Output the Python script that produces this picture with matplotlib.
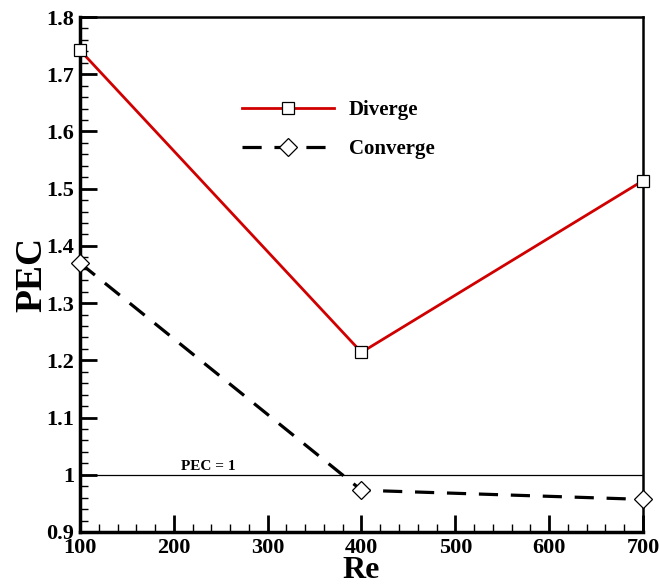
import matplotlib
matplotlib.use("Agg")
import matplotlib.pyplot as plt
from matplotlib.ticker import MultipleLocator

plt.rcParams['font.family'] = ['Liberation Serif', 'DejaVu Serif']
plt.rcParams['font.weight'] = 'bold'

re_vals = [100, 400, 700]
pec_diverge = [1.742, 1.214, 1.514]
pec_converge = [1.370, 0.973, 0.957]

fig = plt.figure(figsize=(6.59, 5.85), dpi=100)
ax = fig.add_axes([0.1214, 0.0906, 0.8543, 0.8803])

ax.axhline(1.0, color='black', lw=0.9, zorder=1)
ax.text(208, 1.003, 'PEC = 1', fontsize=11, fontweight='bold', ha='left', va='bottom')

ax.plot(re_vals, pec_diverge, color='#d10000', lw=2, marker='s', ms=9,
        mfc='white', mec='black', mew=0.9, label='Diverge', clip_on=False, zorder=3)
ax.plot(re_vals, pec_converge, color='black', lw=2.3, ls=(0, (6, 4)), marker='D', ms=9,
        mfc='white', mec='black', mew=0.9, label='Converge', clip_on=False, zorder=3)

ax.set_xlim(100, 700)
ax.set_ylim(0.9, 1.8)
ax.xaxis.set_major_locator(MultipleLocator(100))
ax.xaxis.set_minor_locator(MultipleLocator(20))
ax.yaxis.set_minor_locator(MultipleLocator(0.02))
ax.set_yticks([0.9, 1.0, 1.1, 1.2, 1.3, 1.4, 1.5, 1.6, 1.7, 1.8])
ax.set_yticklabels(['0.9', '1', '1.1', '1.2', '1.3', '1.4', '1.5', '1.6', '1.7', '1.8'])

ax.tick_params(which='major', direction='in', length=12, width=2, labelsize=16,
               top=False, right=False, pad=4)
ax.tick_params(which='minor', direction='in', length=6, width=1, top=False, right=False)
for lab in ax.get_xticklabels() + ax.get_yticklabels():
    lab.set_fontweight('bold')

for side in ['left', 'bottom']:
    ax.spines[side].set_linewidth(2.5)
for side in ['top', 'right']:
    ax.spines[side].set_linewidth(1.8)

ax.set_xlabel('Re', fontsize=23, fontweight='bold', labelpad=-1)
ax.set_ylabel('PEC', fontsize=27, fontweight='bold', labelpad=-2)

leg = ax.legend(loc='upper left', bbox_to_anchor=(0.255, 0.875), frameon=False,
                fontsize=15, handlelength=4.4, handletextpad=0.7, labelspacing=0.9)
for t in leg.get_texts():
    t.set_fontweight('bold')

fig.savefig('out.png', dpi=100)
